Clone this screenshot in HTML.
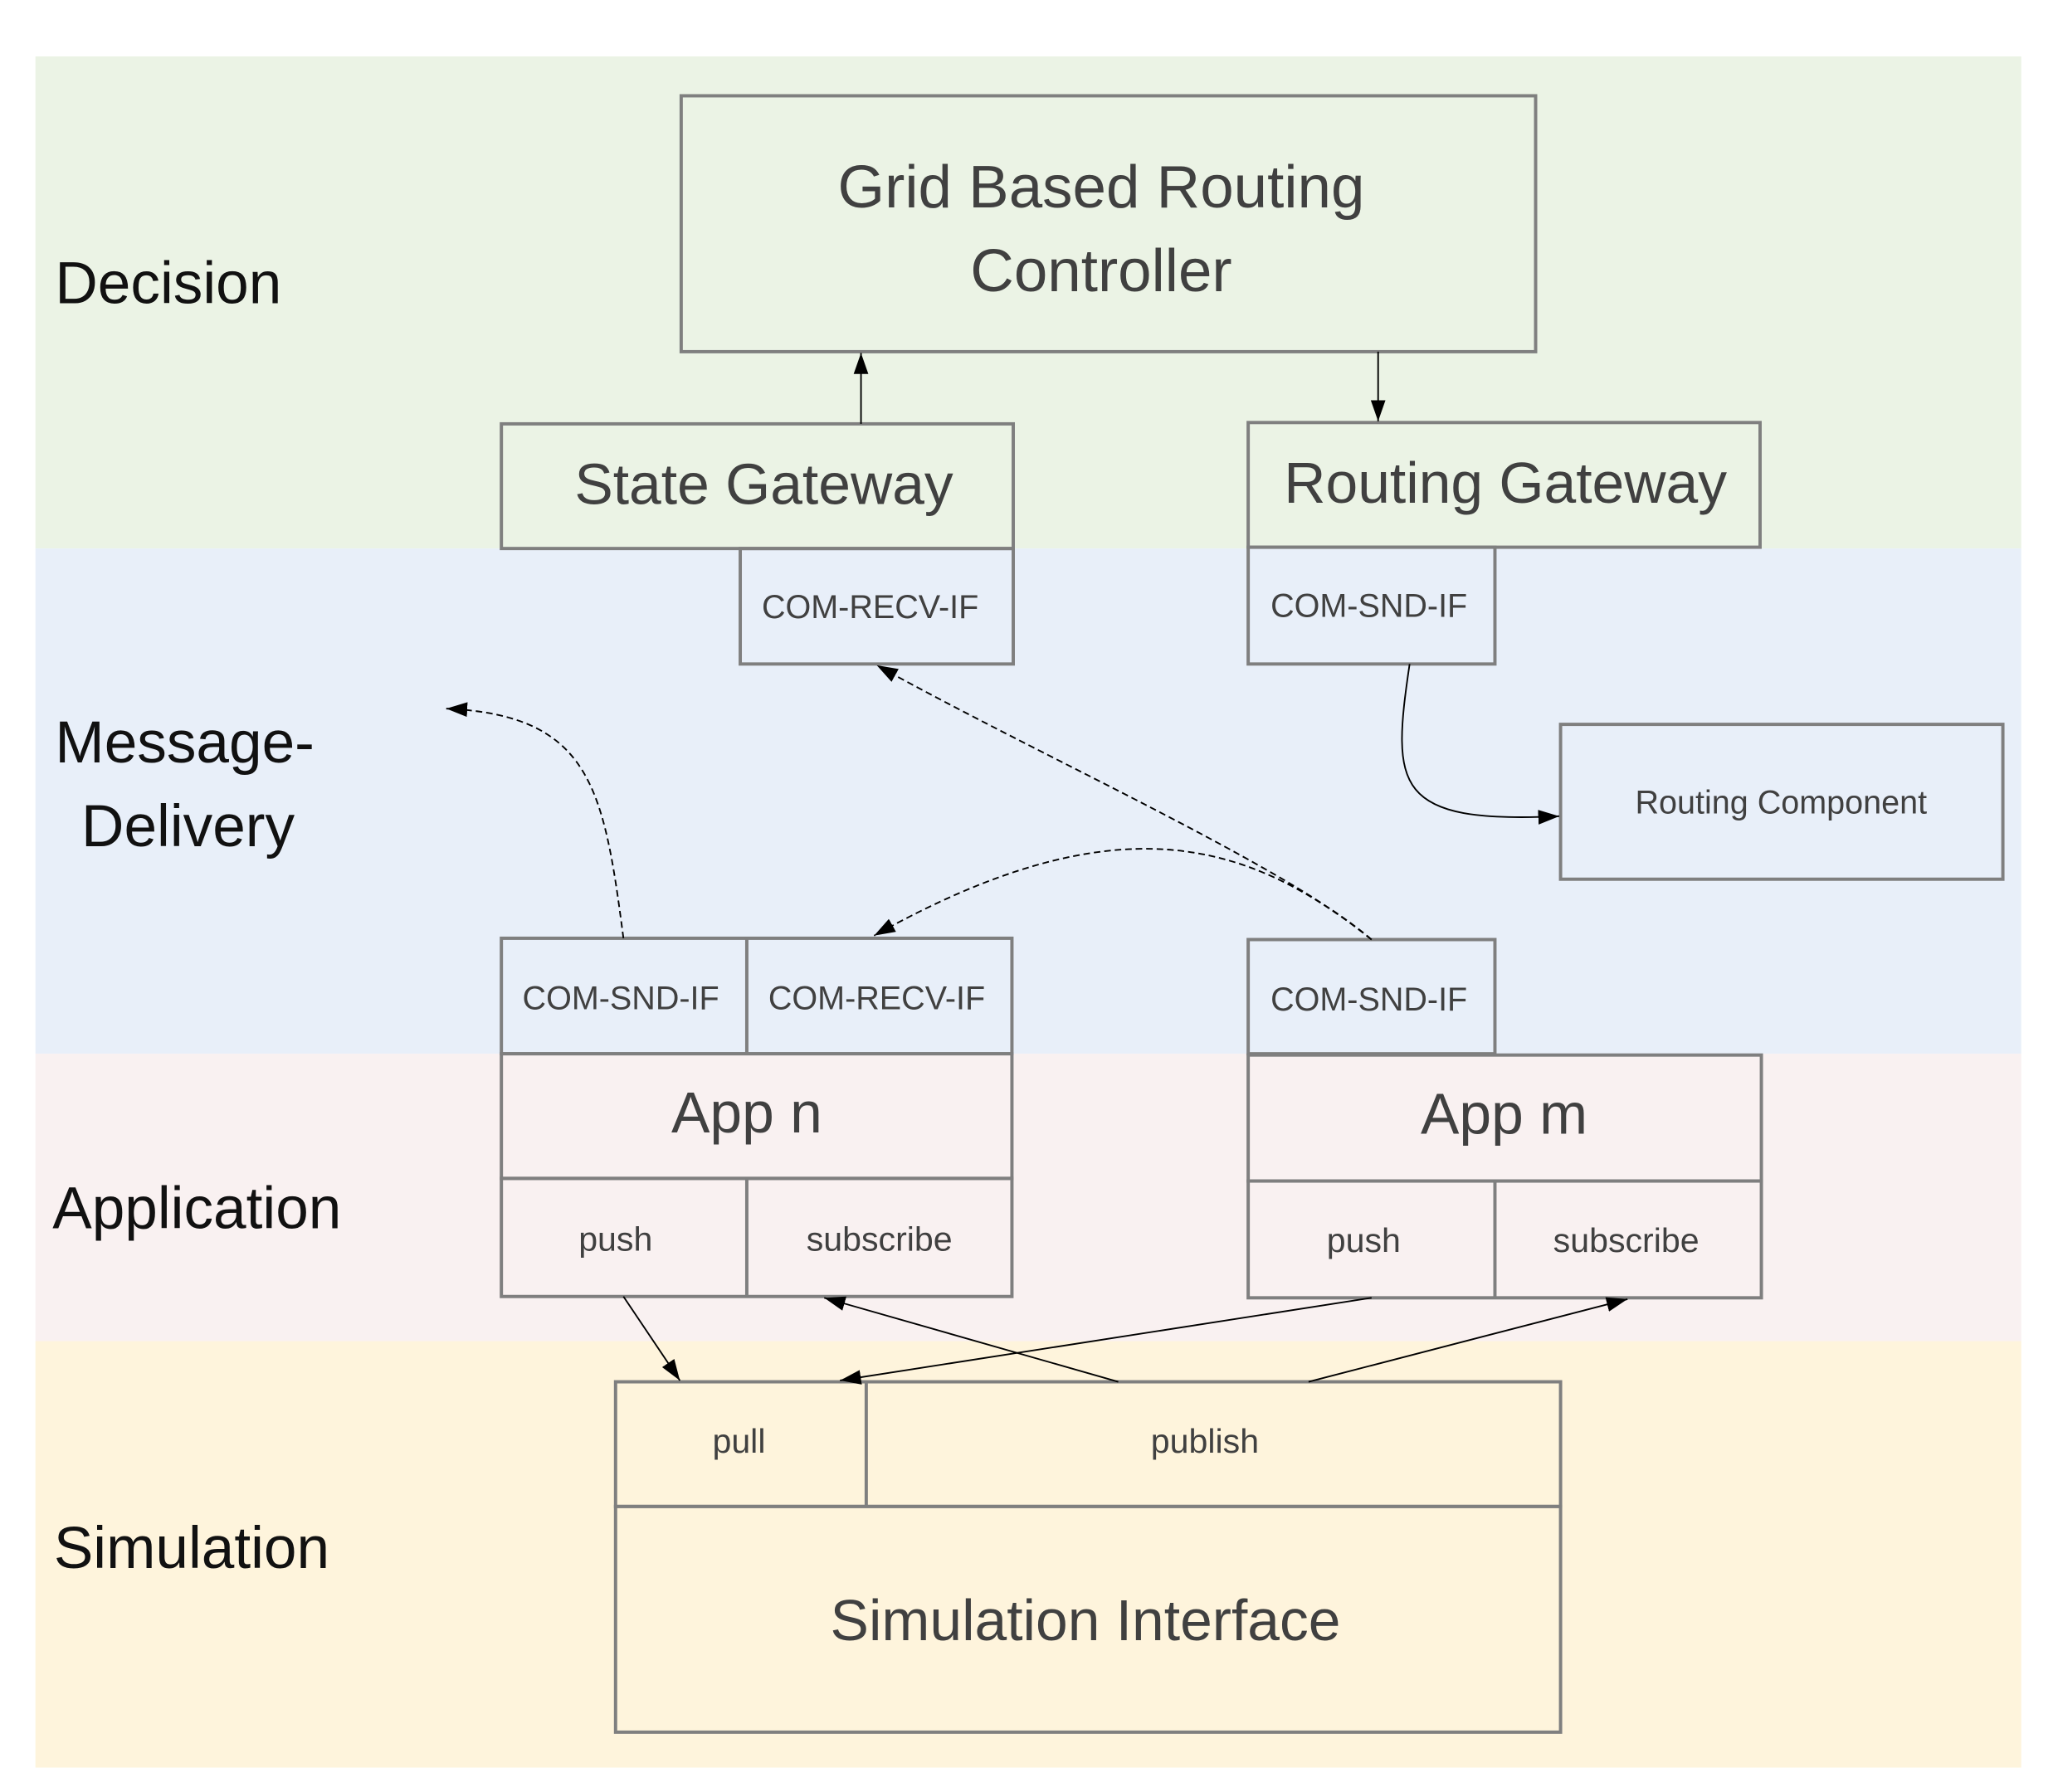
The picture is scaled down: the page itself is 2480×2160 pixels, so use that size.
<!DOCTYPE html>
<html><head><meta charset="utf-8"><style>html,body{margin:0;padding:0;background:#fff}svg{display:block}</style></head>
<body>
<svg width="2480" height="2160" viewBox="0 0 1568 1365.6" preserveAspectRatio="none" xmlns="http://www.w3.org/2000/svg" font-family="Liberation Sans, sans-serif">
<defs>
<marker id="b" viewBox="0 0 10 10" refX="10" refY="5" markerWidth="16" markerHeight="16" markerUnits="userSpaceOnUse" orient="auto"><path d="M0,1.5L10,5L0,8.5z" fill="#000"/></marker>
</defs>
<rect x="27" y="43" width="1513" height="375" fill="#EBF3E5"/>
<rect x="27" y="418" width="1513" height="385" fill="#E8EFF9"/>
<rect x="27" y="803" width="1513" height="219" fill="#F9F1F1"/>
<rect x="27" y="1022" width="1513" height="325" fill="#FEF4DC"/>
<g fill="none" stroke="#7f7f7f" stroke-width="2.5">
<rect x="519" y="73" width="651" height="195"/>
<rect x="382" y="323" width="390" height="95"/>
<rect x="951" y="322" width="390" height="95"/>
<rect x="564" y="418" width="208" height="88"/>
<rect x="951" y="417" width="188" height="89"/>
<rect x="1189" y="552" width="337" height="118"/>
<rect x="382" y="715" width="389" height="88"/><line x1="569" y1="715" x2="569" y2="803"/>
<rect x="951" y="716" width="188" height="87"/>
<rect x="382" y="803" width="389" height="95"/>
<rect x="382" y="898" width="389" height="90"/><line x1="569" y1="898" x2="569" y2="988"/>
<rect x="951" y="804" width="391" height="96"/>
<rect x="951" y="900" width="391" height="89"/><line x1="1139" y1="900" x2="1139" y2="989"/>
<rect x="469" y="1053" width="720" height="95"/><line x1="660" y1="1053" x2="660" y2="1148"/>
<rect x="469" y="1148" width="720" height="172"/>
</g>
<g stroke="#000" stroke-width="1.2" fill="none">
<line x1="656" y1="323" x2="656" y2="269" marker-end="url(#b)"/>
<line x1="1050" y1="268" x2="1050" y2="321" marker-end="url(#b)"/>
<path d="M1074,506 C1060,600 1062,628 1188,622" marker-end="url(#b)"/>
<line x1="475" y1="988" x2="518" y2="1052" marker-end="url(#b)"/>
<line x1="852" y1="1053" x2="628" y2="989" marker-end="url(#b)"/>
<line x1="1045" y1="989" x2="640" y2="1052" marker-end="url(#b)"/>
<line x1="997" y1="1053" x2="1240" y2="990" marker-end="url(#b)"/>
</g>
<g stroke="#000" stroke-width="1.2" fill="none" stroke-dasharray="5,3">
<path d="M1045,716 C980,660 800,580 668,507" marker-end="url(#b)"/>
<path d="M1045,716 C950,640 850,610 666,713" marker-end="url(#b)"/>
<path d="M475,715 C460,600 450,545 340,540" marker-end="url(#b)"/>
</g>
<g fill="#404040" text-anchor="middle">
<text x="839" y="158" font-size="46">Grid Based Routing</text>
<text x="839" y="222" font-size="46">Controller</text>
<text x="582" y="384" font-size="44">State Gateway</text>
<text x="1147" y="383" font-size="44">Routing Gateway</text>
<text x="663" y="471" font-size="25">COM-RECV-IF</text>
<text x="1043" y="470" font-size="25">COM-SND-IF</text>
<text x="1357" y="620" font-size="25">Routing Component</text>
<text x="473" y="769" font-size="25">COM-SND-IF</text>
<text x="668" y="769" font-size="25">COM-RECV-IF</text>
<text x="1043" y="770" font-size="25">COM-SND-IF</text>
<text x="569" y="863" font-size="44">App n</text>
<text x="1146" y="864" font-size="44">App m</text>
<text x="469" y="953" font-size="26">push</text>
<text x="670" y="953" font-size="26">subscribe</text>
<text x="1039" y="954" font-size="26">push</text>
<text x="1239" y="954" font-size="26">subscribe</text>
<text x="563" y="1107" font-size="26">pull</text>
<text x="918" y="1107" font-size="26">publish</text>
<text x="827" y="1250" font-size="44">Simulation Interface</text>
</g>
<g fill="#111" font-size="45">
<text x="42" y="231">Decision</text>
<text x="42" y="581">Message-</text>
<text x="62" y="645">Delivery</text>
<text x="40" y="936">Application</text>
<text x="41" y="1195">Simulation</text>
</g>
</svg>
</body></html>
